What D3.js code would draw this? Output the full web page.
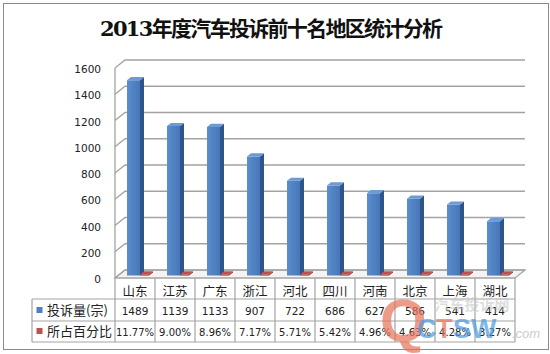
<!DOCTYPE html>
<html><head><meta charset="utf-8">
<script src="https://cdn.jsdelivr.net/npm/d3@7/dist/d3.min.js"></script>
<style>html,body{margin:0;padding:0;background:#fff}svg{display:block}</style>
</head><body>
<script>
const title = "2013年度汽车投诉前十名地区统计分析";
const categories = ["山东","江苏","广东","浙江","河北","四川","河南","北京","上海","湖北"];
const complaints = [1489,1139,1133,907,722,686,627,586,541,414];
const percents = [11.77,9.00,8.96,7.17,5.71,5.42,4.96,4.63,4.28,3.27];
const seriesNames = ["投诉量(宗)","所占百分比"];
const yTicks = [0,200,400,600,800,1000,1200,1400,1600];

const W=550,H=354;
const svg=d3.select("body").append("svg").attr("width",W).attr("height",H);

const defs=svg.append("defs");
const g1=defs.append("linearGradient").attr("id","blueFront").attr("x1",0).attr("x2",1).attr("y1",0).attr("y2",0);
g1.append("stop").attr("offset","0%").attr("stop-color","#5b8ed0");
g1.append("stop").attr("offset","100%").attr("stop-color","#4677b6");

svg.append("rect").attr("x",0).attr("y",0).attr("width",W).attr("height",H).attr("fill","#fff");
svg.append("rect").attr("x",3.5).attr("y",3.5).attr("width",545).attr("height",346)
  .attr("fill","#fff").attr("stroke","#8a8a8a").attr("stroke-width",1);

svg.append("text").attr("x",271.5).attr("y",35.5).attr("text-anchor","middle")
  .attr("font-family","'DejaVu Serif','Noto Sans CJK SC',serif").attr("font-weight",700)
  .attr("font-size",21).attr("textLength",343).attr("lengthAdjust","spacing")
  .attr("fill","#111").text(title);

// 3D geometry
const X0=115,X1=515,YB=278,DX=10,DY=8;
const x=d3.scaleBand().domain(categories).range([X0,X1]);
const y=d3.scaleLinear().domain([0,1600]).range([YB,YB-210]);
const P=(px,v,z)=>[px+z*DX, y(v)-z*DY];
const grid="#a3a3a3";

svg.append("polygon").attr("points",[P(X0,0,0),P(X1,0,0),P(X1,0,1),P(X0,0,1)].map(p=>p.join(",")).join(" "))
  .attr("fill","#f3f3f3").attr("stroke",grid).attr("stroke-width",1.2);

yTicks.forEach(t=>{
  const a=P(X0,t,0),b=P(X0,t,1),c=P(X1,t,1);
  svg.append("polyline").attr("points",[a,b,c].map(p=>p.join(",")).join(" "))
    .attr("fill","none").attr("stroke",grid).attr("stroke-width",1.3);
});
svg.append("line").attr("x1",X0).attr("x2",X0).attr("y1",y(1600)).attr("y2",y(0))
  .attr("stroke",grid).attr("stroke-width",1.3);

svg.append("g").selectAll("text").data(yTicks).join("text")
  .attr("x",101).attr("y",d=>y(d)+1+4).attr("text-anchor","end")
  .attr("font-family","'DejaVu Sans',sans-serif").attr("font-size",10.5).attr("fill","#222")
  .text(d=>d);

function box(g,xl,xr,v,z0,z1,cf,cs,ct){
  const fbl=P(xl,0,z0),fbr=P(xr,0,z0),ftl=P(xl,v,z0),ftr=P(xr,v,z0);
  const btl=P(xl,v,z1),btr=P(xr,v,z1),bbr=P(xr,0,z1);
  const pts=a=>a.map(p=>p.join(",")).join(" ");
  g.append("polygon").attr("points",pts([fbr,ftr,btr,bbr])).attr("fill",cs);
  g.append("polygon").attr("points",pts([fbl,fbr,ftr,ftl])).attr("fill",cf);
  g.append("polygon").attr("points",pts([ftl,ftr,btr,btl])).attr("fill",ct);
}
const bars=svg.append("g");
categories.forEach((c,i)=>{
  const cx=x(c)+x.bandwidth()/2;
  box(bars,cx-11,cx+2,complaints[i],0.3,0.7,"url(#blueFront)","#2f5489","#6b9ad4");
  const rv=Math.max(percents[i]/100, 1600/210*1.2);
  box(bars,cx+2,cx+11,rv,0.3,0.7,"#a33c39","#7d2b29","#c0504d");
});

// data table
const tb=svg.append("g").attr("stroke",grid).attr("stroke-width",1.2);
tb.append("line").attr("x1",X0).attr("x2",X1).attr("y1",YB).attr("y2",YB);
[299,321,342].forEach(r=>tb.append("line").attr("x1",32).attr("x2",X1).attr("y1",r).attr("y2",r));
tb.append("line").attr("x1",32).attr("x2",32).attr("y1",299).attr("y2",342);
d3.range(11).forEach(k=>{
  const xx=X0+k*x.step();
  tb.append("line").attr("x1",xx).attr("x2",xx).attr("y1",YB).attr("y2",342);
});
svg.append("g").selectAll("text").data(categories).join("text")
  .attr("x",d=>x(d)+x.bandwidth()/2).attr("y",295.5).attr("text-anchor","middle")
  .attr("font-family","'Noto Sans CJK SC',sans-serif").attr("font-size",12.5).attr("fill","#222").text(d=>d);
svg.append("g").selectAll("text").data(complaints).join("text")
  .attr("x",(d,i)=>x(categories[i])+x.bandwidth()/2).attr("y",314.5).attr("text-anchor","middle")
  .attr("font-family","'DejaVu Sans',sans-serif").attr("font-size",10.5).attr("fill","#222").text(d=>d);
svg.append("g").selectAll("text").data(percents).join("text")
  .attr("x",(d,i)=>x(categories[i])+x.bandwidth()/2).attr("y",335.5).attr("text-anchor","middle")
  .attr("font-family","'DejaVu Sans',sans-serif").attr("font-size",10).attr("fill","#222").text(d=>d.toFixed(2)+"%");

const keyColors=["#4f81bd","#c0504d"];
seriesNames.forEach((s,i)=>{
  const cy=[310,331][i];
  svg.append("rect").attr("x",36.5).attr("y",cy-3).attr("width",6).attr("height",6).attr("fill",keyColors[i]);
  svg.append("text").attr("x",47).attr("y",cy+4.5).attr("font-family","'Noto Sans CJK SC',sans-serif")
    .attr("font-size",13).attr("fill","#222").text(s);
});

// watermark (as in the reference image)
const wm=svg.append("g").attr("font-family","'Liberation Sans',Arial,sans-serif").attr("font-weight",700);
wm.append("text").attr("x",472).attr("y",310).attr("text-anchor","middle").attr("font-family","'Noto Sans CJK SC',sans-serif")
  .attr("font-size",15).attr("fill","#c8c8c8").attr("opacity",0.6).text("汽车投诉网");
wm.append("text").attr("x",380).attr("y",341).attr("font-size",60).attr("fill","#e8735a").attr("opacity",0.7).text("Q");
wm.append("text").attr("x",417).attr("y",338).attr("font-size",27).attr("fill","#4a9be0").attr("opacity",0.7).text("C");
wm.append("text").attr("x",436).attr("y",338).attr("font-size",27).attr("fill","#e8735a").attr("opacity",0.7).text("T");
wm.append("text").attr("x",453).attr("y",338).attr("font-size",27).attr("fill","#4a9be0").attr("opacity",0.7).text("SW");
wm.append("text").attr("x",512).attr("y",338).attr("font-size",13).attr("font-weight",400).attr("font-style","italic")
  .attr("fill","#c0c0c0").attr("opacity",0.8).text(".com");
</script>
</body></html>
